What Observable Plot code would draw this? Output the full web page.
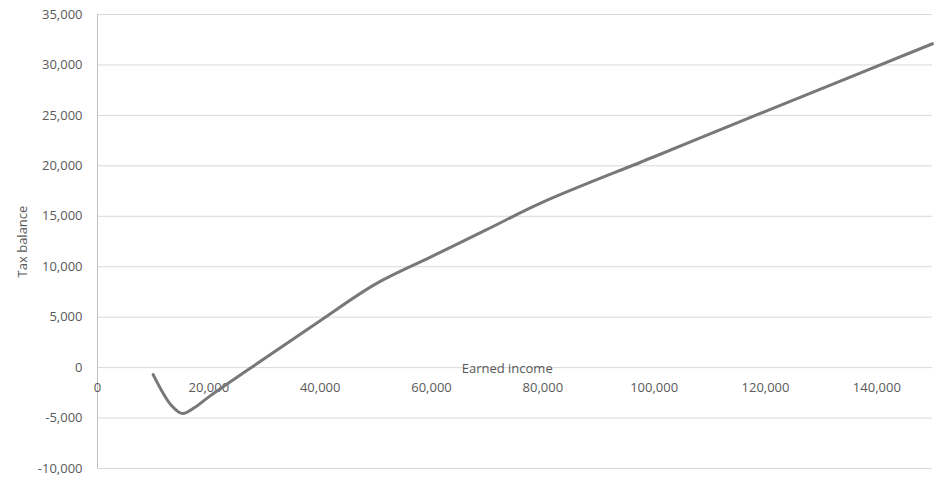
<!DOCTYPE html>
<html>
<head>
<meta charset="utf-8">
<script src="https://cdn.jsdelivr.net/npm/d3@7"></script>
<script src="https://cdn.jsdelivr.net/npm/@observablehq/plot@0.6"></script>
<style>
  html, body { margin: 0; padding: 0; background: #fff; }
  #chart svg { display: block; }
</style>
</head>
<body>
<div id="chart"></div>
<script>
const income = [10000, 13200, 15250, 17600, 20000, 30000, 40000, 50000, 60000, 70000, 80000, 100000, 120000, 150000];
const taxBalance = [-700, -3700, -4550, -3900, -2900, 900, 4650, 8300, 11000, 13700, 16400, 20900, 25400, 32100];
const xTicks = [0, 20000, 40000, 60000, 80000, 100000, 120000, 140000];
const yTicks = [-10000, -5000, 0, 5000, 10000, 15000, 20000, 25000, 30000, 35000];
const xTitle = "Earned income";
const yTitle = "Tax balance";

const data = income.map((x, i) => ({x, y: taxBalance[i]}));
const fmt = d => d3.format(",")(d).replace("\u2212", "-");
const textColor = "#595959";

const chart = Plot.plot({
  width: 944,
  height: 480,
  marginLeft: 97,
  marginRight: 12,
  marginTop: 14,
  marginBottom: 12,
  style: {fontFamily: "'Open Sans', sans-serif", fontSize: "13px", color: textColor, background: "#fff"},
  x: {domain: [0, 150000], axis: null},
  y: {domain: [-10000, 35000], axis: null},
  marks: [
    Plot.ruleY(yTicks, {stroke: "#d9d9d9", strokeWidth: 1}),
    Plot.ruleX([0], {stroke: "#bfbfbf", strokeWidth: 1}),
    Plot.text(yTicks, {x: 0, y: d => d, text: d => fmt(d), textAnchor: "end", dx: -15, fill: textColor, fontSize: 13}),
    Plot.text(xTicks, {x: d => d, y: 0, text: d => fmt(d), dy: 20, fill: textColor, fontSize: 13}),
    Plot.text([xTitle], {x: 73600, y: 0, text: d => d, dy: 1, fill: textColor, fontSize: 13}),
    Plot.text([yTitle], {x: 0, y: 12500, dx: -75, rotate: -90, text: d => d, fill: textColor, fontSize: 13}),
    Plot.line(data, {x: "x", y: "y", stroke: "#787878", strokeWidth: 3, curve: "catmull-rom"})
  ]
});
document.getElementById("chart").append(chart);
</script>
</body>
</html>
